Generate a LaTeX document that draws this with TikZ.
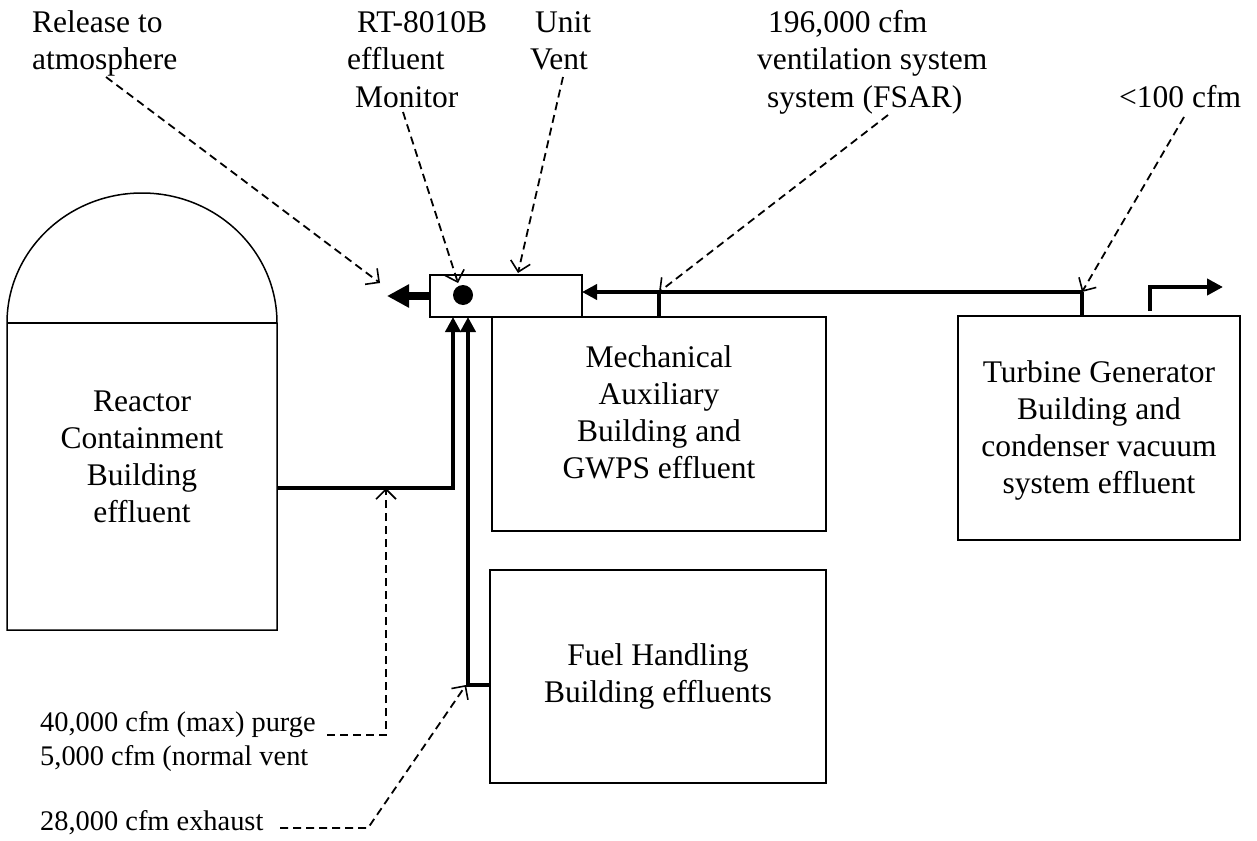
\documentclass[tikz,border=0pt]{standalone}
\usepackage{fontspec}
\setmainfont{Liberation Serif}
\usetikzlibrary{arrows.meta}
\begin{document}
\begin{tikzpicture}[x=1pt,y=-1pt,
  box/.style={draw,line width=1.5pt,inner sep=0pt,outer sep=0pt,anchor=north west},
  flow/.style={line width=4pt},
  flowarrow/.style={line width=4pt,-{Triangle[length=15pt,width=15pt]}},
  bigarrow/.style={line width=7.5pt,-{Triangle[length=22pt,width=22pt]}},
  callout/.style={line width=1.8pt,dash pattern=on 8pt off 5pt,-{Straight Barb[length=10pt,width=20pt,line width=1.6pt]}},
  lbl/.style={inner sep=0pt,anchor=base west,font=\fontsize{31.5}{37}\selectfont},
  small/.style={inner sep=0pt,anchor=base west,font=\fontsize{28.4}{33}\selectfont},
  boxtext/.style={inner sep=0pt,align=center,font=\fontsize{31.5}{37}\selectfont},
]
\useasboundingbox (0,0) rectangle (1257,840);

% containment building
\draw[line width=1.5pt] (7,630) -- (7,323) arc[start angle=180,end angle=360,x radius=135,y radius=130] -- (277,630) -- cycle;
\draw[line width=1.5pt] (7,323) -- (277,323);
\node[boxtext] (rcbtext) at (142,457) {Reactor\\Containment\\Building\\effluent};
\coordinate (rcb) at (277,488);

% boxes
\node[box,minimum width=152pt,minimum height=42pt] (vent) at (430,275) {};
\node[box,minimum width=334pt,minimum height=214pt] (mab) at (492,317) {};
\node[box,minimum width=336pt,minimum height=213pt] (fhb) at (490,570) {};
\node[box,minimum width=282pt,minimum height=224pt] (tgb) at (958,316) {};
\node[boxtext] (mabtext) at (659,412) {Mechanical\\Auxiliary\\Building and\\GWPS effluent};
\node[boxtext] (fhbtext) at (658,676) {Fuel Handling\\Building effluents};
\node[boxtext] (tgbtext) at (1099,430) {Turbine Generator\\Building and\\condenser vacuum\\system effluent};

% monitor dot
\fill (463,295) circle[radius=10pt];
\coordinate (mon) at (463,295);

% junction coordinates
\coordinate (atm) at (387,296);
\coordinate (ventW) at (430,296);
\coordinate (ventE) at (582,292);
\coordinate (tgTop) at (1082,316);
\coordinate (tgJ) at (1082,292);
\coordinate (mabTop) at (659,317);
\coordinate (mabJ) at (659,292);
\coordinate (rcbC) at (453,488);
\coordinate (rcbIn) at (453,317);
\coordinate (fhbW) at (490,685);
\coordinate (fhbC) at (468,685);
\coordinate (fhbIn) at (468,317);
\coordinate (tgS1) at (1150,311);
\coordinate (tgS2) at (1150,287);
\coordinate (tgS3) at (1223,287);

% flows
\draw[bigarrow] (ventW) -- (atm);
\draw[flow] (tgTop) -- (tgJ);
\draw[flowarrow] (tgJ) -- (ventE);
\draw[flow] (mabTop) -- (mabJ);
\draw[flowarrow] (rcb) -- (rcbC) -- (rcbIn);
\draw[flowarrow] (fhbW) -- (fhbC) -- (fhbIn);
\draw[line width=4pt,-{Triangle[length=16pt,width=16pt]}] (tgS1) -- (tgS2) -- (tgS3);

% top labels
\node[lbl] (rel1) at (32,33) {Release to};
\node[lbl] (rel2) at (32,70) {atmosphere};
\node[lbl] (rt1) at (357,33) {RT-8010B};
\node[lbl] (rt2) at (347,70) {effluent};
\node[lbl] (rt3) at (355,108) {Monitor};
\node[lbl] (uv1) at (535,33) {Unit};
\node[lbl] (uv2) at (530,70) {Vent};
\node[lbl] (cf1) at (768,33) {196,000 cfm};
\node[lbl] (cf2) at (757,70) {ventilation system};
\node[lbl] (cf3) at (767,107) {system (FSAR)};
\node[lbl] (lt) at (1119,107) {<100 cfm};

% bottom labels
\node[small] (pg1) at (40,731) {40,000 cfm (max) purge};
\node[small] (pg2) at (40,765) {5,000 cfm (normal vent};
\node[small] (ex) at (40,830) {28,000 cfm exhaust};

% callouts
\coordinate (relS) at (106,77);
\coordinate (relT) at (380,283);
\coordinate (rtS) at (403,112);
\coordinate (rtT) at (458,283);
\coordinate (uvS) at (563,77);
\coordinate (uvT) at (518,273);
\coordinate (cfS) at (888,115);
\coordinate (cfT) at (659,292);
\coordinate (ltS) at (1184,117);
\coordinate (ltT) at (1082,292);
\coordinate (pgS) at (327,735);
\coordinate (pgK) at (386,735);
\coordinate (pgT) at (386,488);
\coordinate (exS) at (280,828);
\coordinate (exK) at (368,828);
\coordinate (exT) at (466,685);

\draw[callout] (relS) -- (relT);
\draw[callout] (rtS) -- (rtT);
\draw[callout] (uvS) -- (uvT);
\draw[callout] (cfS) -- (cfT);
\draw[callout] (ltS) -- (ltT);
\draw[callout] (pgS) -- (pgK) -- (pgT);
\draw[callout] (exS) -- (exK) -- (exT);
\end{tikzpicture}
\end{document}
